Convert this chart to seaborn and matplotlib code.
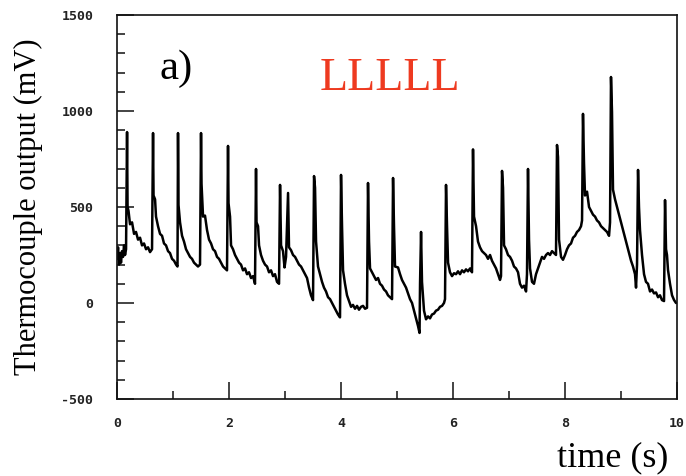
import matplotlib
matplotlib.use('Agg')
import matplotlib.pyplot as plt
import seaborn as sns
import pandas as pd
from matplotlib.ticker import MultipleLocator

# trace: time (s) and thermocouple output (mV)
time_s = [
    0.000, 0.018, 0.036, 0.054, 0.071, 0.089, 0.107, 0.125, 0.143, 0.161,
    0.179, 0.188, 0.205, 0.232, 0.268, 0.304, 0.339, 0.375, 0.411, 0.446,
    0.482, 0.518, 0.554, 0.589, 0.625,
    0.643, 0.652, 0.679, 0.696, 0.732, 0.768, 0.804, 0.839, 0.875, 0.911,
    0.946, 0.982, 1.018, 1.054, 1.080,
    1.089, 1.098, 1.125, 1.161, 1.196, 1.232, 1.268, 1.304, 1.339, 1.375,
    1.411, 1.446, 1.482,
    1.500, 1.509, 1.536, 1.571, 1.607, 1.643, 1.679, 1.714, 1.750, 1.786,
    1.821, 1.857, 1.893, 1.929, 1.964,
    1.982, 1.991, 2.018, 2.036, 2.071, 2.107, 2.143, 2.179, 2.214, 2.250,
    2.286, 2.321, 2.357, 2.393, 2.429, 2.464,
    2.482, 2.491, 2.518, 2.536, 2.571, 2.607, 2.643, 2.679, 2.714, 2.750,
    2.786, 2.821, 2.857, 2.893,
    2.911, 2.929, 2.964, 2.991, 3.018,
    3.054, 3.071, 3.107, 3.143, 3.179, 3.214, 3.250, 3.286, 3.321, 3.357,
    3.393, 3.429, 3.464, 3.500,
    3.518, 3.536, 3.554, 3.589, 3.625, 3.661, 3.696, 3.732, 3.768, 3.804,
    3.839, 3.875, 3.911, 3.946, 3.982,
    4.000, 4.018, 4.036, 4.071, 4.107, 4.143, 4.179, 4.214, 4.250, 4.286,
    4.321, 4.357, 4.393, 4.429, 4.464,
    4.482, 4.500, 4.518, 4.554, 4.589, 4.625, 4.661, 4.696, 4.732, 4.768,
    4.804, 4.839, 4.875, 4.911,
    4.929, 4.946, 4.964, 5.018, 5.054, 5.089, 5.125, 5.161, 5.196, 5.232,
    5.268, 5.304, 5.339, 5.375, 5.402, 5.411,
    5.429, 5.446, 5.482, 5.518, 5.554, 5.589, 5.625, 5.661, 5.696, 5.732,
    5.768, 5.804, 5.839, 5.857,
    5.875, 5.893, 5.911, 5.946, 5.982, 6.018, 6.054, 6.089, 6.125, 6.161,
    6.196, 6.232, 6.268, 6.304, 6.339,
    6.357, 6.375, 6.411, 6.446, 6.482, 6.518, 6.554, 6.589, 6.625, 6.661,
    6.696, 6.732, 6.768, 6.804, 6.839, 6.857,
    6.875, 6.893, 6.911, 6.946, 6.982, 7.018, 7.054, 7.089, 7.125, 7.161,
    7.196, 7.232, 7.268, 7.304, 7.321,
    7.339, 7.357, 7.375, 7.411, 7.446, 7.482, 7.518, 7.554, 7.589, 7.625,
    7.661, 7.696, 7.732, 7.768, 7.804, 7.839,
    7.857, 7.875, 7.893, 7.929, 7.964, 8.000, 8.036, 8.071, 8.107, 8.143,
    8.179, 8.214, 8.250, 8.286, 8.304,
    8.321, 8.339, 8.357, 8.393, 8.429, 8.464, 8.500, 8.536, 8.571, 8.607,
    8.643, 8.679, 8.714, 8.750, 8.786, 8.804,
    8.821, 8.839, 8.857, 8.893, 8.929, 8.964, 9.000, 9.036, 9.071, 9.107,
    9.143, 9.179, 9.214, 9.250, 9.268, 9.286,
    9.304, 9.321, 9.339, 9.375, 9.411, 9.446, 9.482, 9.518, 9.554, 9.589,
    9.625, 9.661, 9.696, 9.732, 9.768,
    9.786, 9.804, 9.821, 9.839, 9.875, 9.911, 9.946, 9.982,
]
output_mv = [
    230, 290, 200, 260, 210, 270, 240, 300, 250, 280,
    890, 500, 480, 410, 420, 360, 370, 330, 340, 300,
    310, 280, 290, 265, 280,
    885, 560, 540, 450, 400, 360, 350, 310, 300, 270,
    260, 230, 220, 200, 190,
    885, 510, 420, 350, 320, 280, 260, 240, 230, 210,
    200, 190, 200,
    885, 620, 450, 455, 380, 330, 310, 280, 270, 240,
    230, 210, 190, 180, 170,
    818, 520, 450, 300, 280, 250, 230, 210, 200, 170,
    180, 150, 160, 130, 140, 100,
    698, 420, 400, 300, 250, 220, 200, 190, 160, 170,
    140, 150, 110, 100,
    615, 300, 270, 185, 240,
    573, 290, 275, 250, 240, 220, 200, 190, 170, 150,
    130, 80, 40, 15,
    661, 600, 320, 190, 150, 110, 80, 60, 30, 20,
    0, -20, -40, -60, -75,
    667, 400, 170, 100, 40, 10, -20, -10, -30, -15,
    -35, -20, -15, -30, -25,
    625, 320, 180, 160, 140, 120, 130, 100, 90, 70,
    60, 40, 30, 20,
    651, 400, 190, 185, 150, 120, 100, 80, 50, 20,
    0, -40, -80, -120, -156, 100,
    370, 110, -40, -85, -70, -80, -60, -55, -40, -35,
    -20, -15, 0, 20,
    615, 400, 210, 160, 140, 155, 150, 165, 150, 170,
    160, 175, 165, 180, 160,
    800, 450, 400, 320, 290, 270, 260, 250, 230, 250,
    220, 200, 180, 150, 120, 140,
    688, 600, 300, 280, 250, 240, 220, 190, 180, 160,
    100, 80, 90, 60, 150,
    698, 330, 180, 110, 100, 150, 180, 210, 240, 230,
    250, 260, 250, 270, 260, 250,
    823, 760, 330, 240, 225, 250, 280, 300, 310, 340,
    350, 370, 380, 400, 430,
    985, 730, 560, 580, 500, 480, 460, 450, 430, 420,
    400, 390, 380, 370, 350, 420,
    1177, 995, 590, 540, 500, 460, 420, 380, 340, 300,
    260, 220, 190, 150, 80, 200,
    693, 500, 380, 250, 150, 110, 100, 60, 70, 50,
    55, 30, 40, 15, 10,
    536, 280, 250, 172, 100, 40, 16, 0,
]

y_ticks = [-500, 0, 500, 1000, 1500]
x_ticks = [0, 2, 4, 6, 8, 10]

df = pd.DataFrame({'time': time_s, 'mv': output_mv})

sns.set_style('ticks')
fig = plt.figure(figsize=(6.86, 4.76), dpi=100)
ax = fig.add_axes([0.1706, 0.1618, 0.8163, 0.8067])

sns.lineplot(data=df, x='time', y='mv', ax=ax, color='black',
             linewidth=1.8, estimator=None, sort=False)

ax.set_xlim(0, 10)
ax.set_ylim(-500, 1500)
ax.set_xticks(x_ticks)
ax.set_yticks(y_ticks)
ax.xaxis.set_minor_locator(MultipleLocator(1))
ax.yaxis.set_minor_locator(MultipleLocator(100))
ax.set_xticklabels([str(v) for v in x_ticks])
ax.set_yticklabels([str(v) for v in y_ticks])
ax.set_xlabel('')
ax.set_ylabel('')

for s in ax.spines.values():
    s.set_linewidth(1.2)
    s.set_color('#111111')

ax.tick_params(which='major', direction='in', length=12, width=1.1, color='#111111',
               labelsize=9.5, labelcolor='#222222')
ax.tick_params(axis='y', which='major', pad=17)
ax.tick_params(axis='x', which='major', pad=13)
ax.tick_params(which='minor', direction='in', length=6, width=1.1, color='#111111')
for lab in ax.get_xticklabels() + ax.get_yticklabels():
    lab.set_family('DejaVu Sans Mono')
    lab.set_weight('bold')

serif = ['Liberation Serif', 'DejaVu Serif']
fig.text(0.041, 0.565, 'Thermocouple output (mV)', rotation=90, ha='center',
         va='center', fontsize=22, family=serif, color='black')
fig.text(0.893, 0.038, 'time (s)', ha='center', va='center', fontsize=26,
         family=serif, color='black')
fig.text(0.257, 0.855, 'a)', ha='center', va='center', fontsize=31,
         family=serif, color='black')
fig.text(0.569, 0.835, 'LLLLL', ha='center', va='center', fontsize=33,
         family=serif, color='#ee3a20')

fig.savefig('out.png', dpi=100)
